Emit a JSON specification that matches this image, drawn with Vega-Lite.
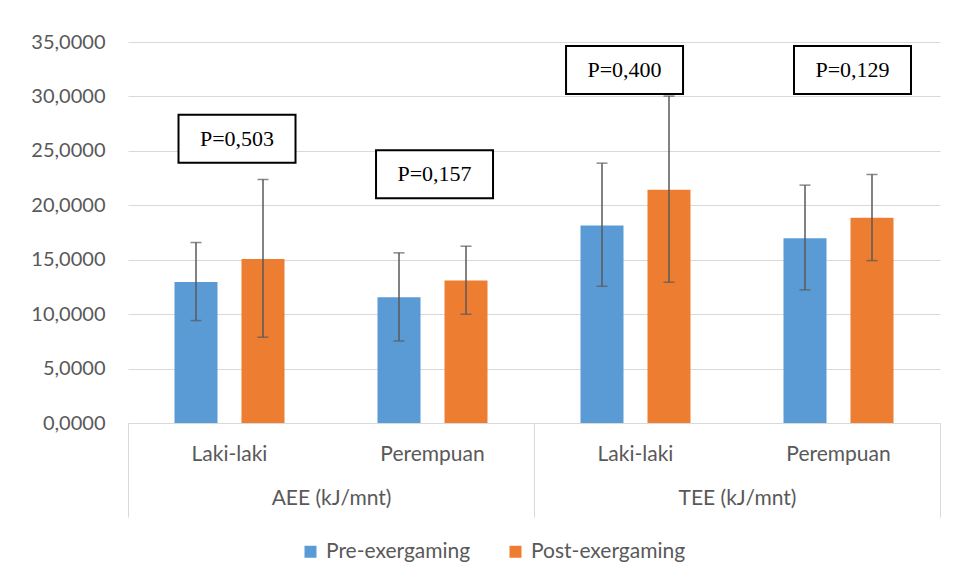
{
  "$schema": "https://vega.github.io/schema/vega-lite/v6.json",
  "width": 812,
  "height": 381,
  "autosize": {"type": "none"},
  "padding": {"left": 128, "top": 42, "right": 18, "bottom": 162},
  "background": "white",
  "config": {
    "view": {"stroke": null},
    "font": "Lato",
    "axis": {"labelFont": "Lato", "labelColor": "#595959"},
    "legend": {"labelFont": "Lato"}
  },
  "datasets": {
    "bars": [
      {"cat": "AEE Laki-laki", "series": "Pre-exergaming", "value": 12.96, "lo": 9.41, "hi": 16.58},
      {"cat": "AEE Laki-laki", "series": "Post-exergaming", "value": 15.07, "lo": 7.88, "hi": 22.37},
      {"cat": "AEE Perempuan", "series": "Pre-exergaming", "value": 11.55, "lo": 7.54, "hi": 15.63},
      {"cat": "AEE Perempuan", "series": "Post-exergaming", "value": 13.09, "lo": 9.99, "hi": 16.24},
      {"cat": "TEE Laki-laki", "series": "Pre-exergaming", "value": 18.14, "lo": 12.56, "hi": 23.87},
      {"cat": "TEE Laki-laki", "series": "Post-exergaming", "value": 21.42, "lo": 12.93, "hi": 30.03},
      {"cat": "TEE Perempuan", "series": "Pre-exergaming", "value": 16.98, "lo": 12.23, "hi": 21.85},
      {"cat": "TEE Perempuan", "series": "Post-exergaming", "value": 18.85, "lo": 14.92, "hi": 22.83}
    ],
    "groups": [
      {"group": "AEE (kJ/mnt)"},
      {"group": "TEE (kJ/mnt)"}
    ],
    "boxes": [
      {"label": "P=0,503", "xpos": 0.537, "ypos": 26.12},
      {"label": "P=0,157", "xpos": 1.51, "ypos": 22.85},
      {"label": "P=0,400", "xpos": 2.446, "ypos": 32.42},
      {"label": "P=0,129", "xpos": 3.569, "ypos": 32.42}
    ]
  },
  "layer": [
    {
      "data": {"name": "bars"},
      "encoding": {
        "x": {
          "field": "cat",
          "type": "nominal",
          "sort": ["AEE Laki-laki", "AEE Perempuan", "TEE Laki-laki", "TEE Perempuan"],
          "scale": {"paddingInner": 0, "paddingOuter": 0},
          "axis": {
            "title": null,
            "labelExpr": "slice(datum.label, 4)",
            "ticks": false,
            "domainColor": "#d9d9d9",
            "domainWidth": 1,
            "labelPadding": 20,
            "labelFontSize": 21,
            "labelAngle": 0,
            "grid": false
          }
        },
        "xOffset": {
          "field": "series",
          "type": "nominal",
          "sort": ["Pre-exergaming", "Post-exergaming"],
          "scale": {"paddingInner": 0.358, "paddingOuter": 0.694}
        }
      },
      "layer": [
        {
          "mark": {"type": "bar"},
          "encoding": {
            "y": {
              "field": "value",
              "type": "quantitative",
              "scale": {"domain": [0, 35], "nice": false, "zero": true},
              "axis": {
                "title": null,
                "values": [0, 5, 10, 15, 20, 25, 30, 35],
                "labelExpr": "replace(format(datum.value, '.4f'), '.', ',')",
                "ticks": false,
                "domain": false,
                "gridColor": "#d9d9d9",
                "gridWidth": 1,
                "labelPadding": 23,
                "labelFontSize": 20
              }
            },
            "color": {
              "field": "series",
              "type": "nominal",
              "sort": ["Pre-exergaming", "Post-exergaming"],
              "scale": {"domain": ["Pre-exergaming", "Post-exergaming"], "range": ["#5B9BD5", "#ED7D31"]},
              "legend": {
                "orient": "none",
                "legendX": 172,
                "legendY": 499,
                "direction": "horizontal",
                "title": null,
                "symbolType": "square",
                "symbolSize": 144,
                "symbolStrokeWidth": 0,
                "labelFontSize": 21,
                "labelColor": "#595959",
                "labelOffset": 5,
                "columnPadding": 34
              }
            }
          }
        },
        {
          "mark": {"type": "rule", "color": "#595959", "strokeWidth": 1.5},
          "encoding": {
            "y": {"field": "lo", "type": "quantitative"},
            "y2": {"field": "hi"}
          }
        },
        {
          "mark": {"type": "tick", "color": "#595959", "thickness": 1.5, "size": 11, "orient": "horizontal"},
          "encoding": {
            "y": {"field": "lo", "type": "quantitative"}
          }
        },
        {
          "mark": {"type": "tick", "color": "#595959", "thickness": 1.5, "size": 11, "orient": "horizontal"},
          "encoding": {
            "y": {"field": "hi", "type": "quantitative"}
          }
        }
      ]
    },
    {
      "data": {"name": "groups"},
      "mark": {"type": "tick", "opacity": 0},
      "encoding": {
        "x": {
          "field": "group",
          "type": "nominal",
          "sort": ["AEE (kJ/mnt)", "TEE (kJ/mnt)"],
          "scale": {"paddingInner": 0, "paddingOuter": 0},
          "axis": {
            "orient": "bottom",
            "title": null,
            "domain": false,
            "ticks": true,
            "tickBand": "extent",
            "tickSize": 94,
            "tickColor": "#d9d9d9",
            "tickWidth": 1,
            "labelPadding": -30,
            "labelAngle": 0,
            "labelFontSize": 21,
            "grid": false
          }
        }
      }
    },
    {
      "data": {"name": "boxes"},
      "encoding": {
        "x": {
          "field": "xpos",
          "type": "quantitative",
          "scale": {"domain": [0, 4], "nice": false, "zero": false},
          "axis": null
        },
        "y": {"field": "ypos", "type": "quantitative", "axis": {"title": null}}
      },
      "layer": [
        {
          "mark": {
            "type": "point",
            "shape": "M-2.4375,-1H2.4375V1H-2.4375Z",
            "size": 2304,
            "filled": true,
            "fill": "white",
            "fillOpacity": 1,
            "stroke": "black",
            "strokeOpacity": 1,
            "strokeWidth": 2,
            "opacity": 1
          }
        },
        {
          "mark": {
            "type": "text",
            "font": "Liberation Serif",
            "fontSize": 22,
            "color": "black",
            "align": "center",
            "baseline": "middle"
          },
          "encoding": {"text": {"field": "label"}}
        }
      ]
    }
  ],
  "resolve": {"scale": {"x": "independent"}, "axis": {"x": "independent"}}
}
